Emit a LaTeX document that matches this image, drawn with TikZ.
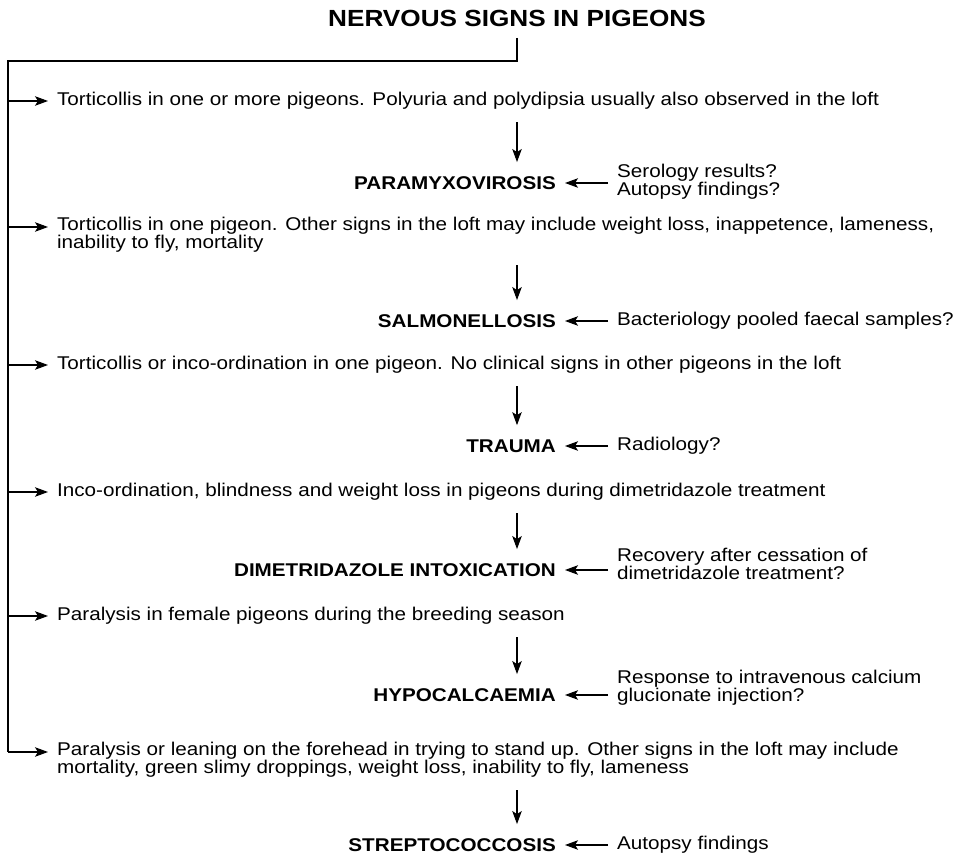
\documentclass[tikz,border=0pt]{standalone}
\usepackage{fontspec}
\setmainfont{Liberation Sans}[FakeStretch=1.12]
\usetikzlibrary{arrows.meta,positioning}
\newcommand\bodyfont{\fontsize{10.5}{10}\selectfont}
\tikzset{
sign/.style={anchor=west,align=left,inner xsep=5pt,inner ysep=0pt,font=\bodyfont},
diagnosis/.style={anchor=east,inner xsep=5pt,inner ysep=0pt,font=\bodyfont\bfseries},
test/.style={anchor=west,align=left,inner xsep=5pt,inner ysep=0pt,font=\bodyfont},
heading/.style={anchor=south,inner sep=6pt,font=\fontsize{13.3}{15}\selectfont\bfseries},
link/.style={line width=.6pt},
flow/.style={-{Stealth[length=2.6mm,width=1.9mm,inset=.6mm]},line width=.6pt},
down/.style={flow,shorten <=7pt,shorten >=8pt}
}

\begin{document}
\begin{tikzpicture}[x=0.02cm,y=-0.02cm]
\useasboundingbox (0,0) rectangle (966,857);
\node[heading](title) at (517,38){NERVOUS SIGNS IN PIGEONS};
\coordinate (split) at (8,61);
\coordinate (axis) at (517,0);
% clinical signs
\node[sign](s1) at (48,101){Torticollis in one or more pigeons. Polyuria and polydipsia usually also observed in the loft};
\node[sign](s2) at (48,235){Torticollis in one pigeon. Other signs in the loft may include weight loss, inappetence, lameness,\\inability to fly, mortality};
\node[sign](s3) at (48,365){Torticollis or inco-ordination in one pigeon. No clinical signs in other pigeons in the loft};
\node[sign](s4) at (48,492){Inco-ordination, blindness and weight loss in pigeons during dimetridazole treatment};
\node[sign](s5) at (48,616){Paralysis in female pigeons during the breeding season};
\node[sign](s6) at (48,760){Paralysis or leaning on the forehead in trying to stand up. Other signs in the loft may include\\mortality, green slimy droppings, weight loss, inability to fly, lameness};
\coordinate (t1) at (8,101);
\coordinate (t2) at (8,227);
\coordinate (t3) at (8,365);
\coordinate (t4) at (8,492);
\coordinate (t5) at (8,616);
\coordinate (t6) at (8,752);
% diagnoses
\node[diagnosis](d1) at (565,183){PARAMYXOVIROSIS};
\node[diagnosis](d2) at (565,321){SALMONELLOSIS};
\node[diagnosis](d3) at (565,446){TRAUMA};
\node[diagnosis](d4) at (565,570){DIMETRIDAZOLE INTOXICATION};
\node[diagnosis](d5) at (565,695){HYPOCALCAEMIA};
\node[diagnosis](d6) at (565,845){STREPTOCOCCOSIS};
% confirmation
\node[test](q1) at (608,182){Serology results?\\Autopsy findings?};
\node[test](q2) at (608,321){Bacteriology pooled faecal samples?};
\node[test](q3) at (608,446){Radiology?};
\node[test](q4) at (608,564){Recovery after cessation of\\dimetridazole treatment?};
\node[test](q5) at (608,688){Response to intravenous calcium\\glucionate injection?};
\node[test](q6) at (608,845){Autopsy findings};

\draw[link](title.south) |- (split) -- (t6);
\foreach \i in {1,...,6}{
  \draw[flow](t\i) -- (t\i -| s\i.west);
  \draw[down](s\i.south -| axis) -- (d\i.north -| axis);
  \draw[flow](d\i.east -| q\i.west) -- (d\i.east);
}
\end{tikzpicture}
\end{document}
